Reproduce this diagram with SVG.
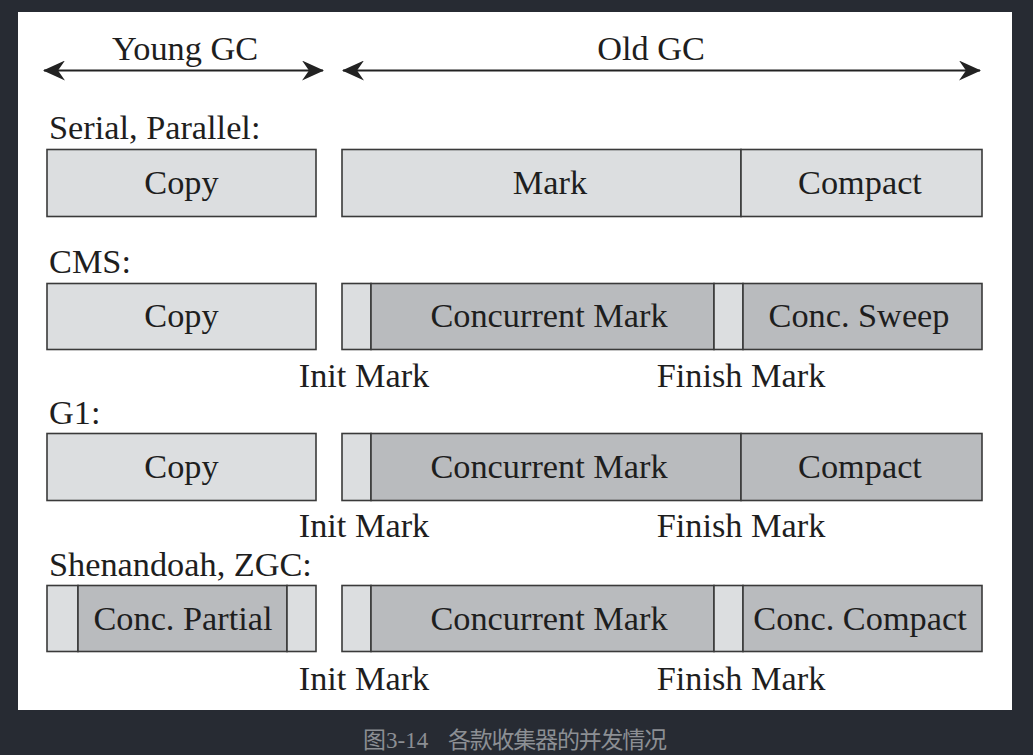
<svg xmlns="http://www.w3.org/2000/svg" width="1033" height="755" viewBox="0 0 1033 755">
  <style>
    .t { font-family: "Liberation Serif", "Times New Roman", serif; font-size: 34.3px; fill: #1e1e1e; }
    .c { text-anchor: middle; }
    .lt { fill: #dcdee0; stroke: #3a3a3a; stroke-width: 1.6; }
    .dk { fill: #b9bbbe; stroke: #3a3a3a; stroke-width: 1.6; }
    .arrow { stroke: #222; stroke-width: 1.8; fill: none; }
    .cap { font-family: "Liberation Serif", "Noto Sans CJK SC", serif; font-size: 23px; fill: #8c8f94; }
  </style>
  <defs>
    <marker id="head" viewBox="0 0 22 20" refX="21" refY="10" markerWidth="22" markerHeight="20" markerUnits="userSpaceOnUse" orient="auto-start-reverse">
      <path d="M0,0 L22,10 L0,20 L7,10 Z" fill="#222"/>
    </marker>
  </defs>

  <!-- page -->
  <rect x="0" y="0" width="1033" height="755" fill="#272b33"/>
  <rect x="18" y="12" width="994" height="698" fill="#ffffff"/>

  <!-- span arrows -->
  <g id="connectors">
    <line class="arrow" x1="44" y1="70.5" x2="323" y2="70.5" marker-start="url(#head)" marker-end="url(#head)"/>
    <line class="arrow" x1="343" y1="70.5" x2="980" y2="70.5" marker-start="url(#head)" marker-end="url(#head)"/>
  </g>

  <g id="hdr-young"><text class="t c" x="185" y="60">Young GC</text></g>
  <g id="hdr-old"><text class="t c" x="651" y="60">Old GC</text></g>

  <!-- Serial, Parallel -->
  <g id="lbl-serial"><text class="t" x="49" y="139">Serial, Parallel:</text></g>
  <g id="serial-copy">
    <rect class="lt" x="47" y="149.5" width="269" height="67"/>
    <text class="t c" x="181.5" y="194">Copy</text>
  </g>
  <g id="serial-old">
    <rect class="lt" x="342" y="149.5" width="399" height="67"/>
    <rect class="lt" x="741" y="149.5" width="241" height="67"/>
    <text class="t c" x="550" y="194">Mark</text>
    <text class="t c" x="860" y="194">Compact</text>
  </g>

  <!-- CMS -->
  <g id="lbl-cms"><text class="t" x="49" y="273">CMS:</text></g>
  <g id="cms-copy">
    <rect class="lt" x="47" y="283.5" width="269" height="66"/>
    <text class="t c" x="181.5" y="327">Copy</text>
  </g>
  <g id="cms-old">
    <rect class="lt" x="342" y="283.5" width="29" height="66"/>
    <rect class="dk" x="371" y="283.5" width="343" height="66"/>
    <rect class="lt" x="714" y="283.5" width="29" height="66"/>
    <rect class="dk" x="743" y="283.5" width="239" height="66"/>
    <text class="t c" x="549" y="327">Concurrent Mark</text>
    <text class="t c" x="859" y="327">Conc. Sweep</text>
  </g>
  <g id="cms-marks">
    <text class="t c" x="364" y="387">Init Mark</text>
    <text class="t c" x="741" y="387">Finish Mark</text>
  </g>

  <!-- G1 -->
  <g id="lbl-g1"><text class="t" x="49" y="424">G1:</text></g>
  <g id="g1-copy">
    <rect class="lt" x="47" y="433.5" width="269" height="67"/>
    <text class="t c" x="181.5" y="478">Copy</text>
  </g>
  <g id="g1-old">
    <rect class="lt" x="342" y="433.5" width="29" height="67"/>
    <rect class="dk" x="371" y="433.5" width="370" height="67"/>
    <rect class="dk" x="741" y="433.5" width="241" height="67"/>
    <text class="t c" x="549" y="478">Concurrent Mark</text>
    <text class="t c" x="860" y="478">Compact</text>
  </g>
  <g id="g1-marks">
    <text class="t c" x="364" y="537">Init Mark</text>
    <text class="t c" x="741" y="537">Finish Mark</text>
  </g>

  <!-- Shenandoah, ZGC -->
  <g id="lbl-shen"><text class="t" x="49" y="576">Shenandoah, ZGC:</text></g>
  <g id="shen-young">
    <rect class="lt" x="47" y="585.5" width="31" height="66"/>
    <rect class="dk" x="78" y="585.5" width="209" height="66"/>
    <rect class="lt" x="287" y="585.5" width="29" height="66"/>
    <text class="t c" x="183" y="630">Conc. Partial</text>
  </g>
  <g id="shen-old">
    <rect class="lt" x="342" y="585.5" width="29" height="66"/>
    <rect class="dk" x="371" y="585.5" width="343" height="66"/>
    <rect class="lt" x="714" y="585.5" width="29" height="66"/>
    <rect class="dk" x="743" y="585.5" width="239" height="66"/>
    <text class="t c" x="549" y="630">Concurrent Mark</text>
    <text class="t c" x="860" y="630">Conc. Compact</text>
  </g>
  <g id="shen-marks">
    <text class="t c" x="364" y="690">Init Mark</text>
    <text class="t c" x="741" y="690">Finish Mark</text>
  </g>

  <!-- caption -->
  <text class="cap" x="363" y="748">图3-14</text>
  <text class="cap" x="448" y="748" font-family="'Noto Sans CJK SC', sans-serif" textLength="219">各款收集器的并发情况</text>
</svg>
